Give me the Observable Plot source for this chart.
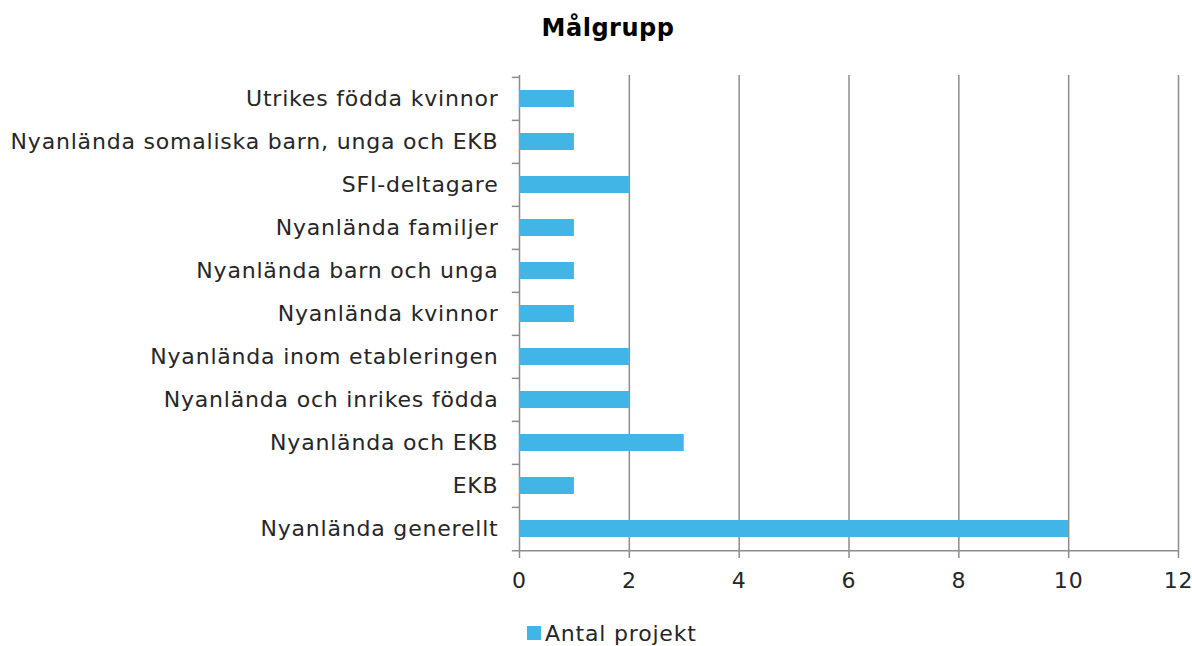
<!DOCTYPE html>
<html>
<head>
<meta charset="utf-8">
<script src="https://cdn.jsdelivr.net/npm/d3@7"></script>
<script src="https://cdn.jsdelivr.net/npm/@observablehq/plot@0.6"></script>
<style>
  html, body { margin: 0; padding: 0; background: #fff; }
  body { width: 1192px; height: 646px; overflow: hidden; font-family: "DejaVu Sans", sans-serif; }
  #title { height: 56px; line-height: 56px; text-align: center; font-weight: bold; font-size: 24px; color: #000; padding-left: 24px; box-sizing: border-box; letter-spacing: 0.5px; }
  #legend { height: 66px; display: flex; align-items: center; justify-content: flex-start; padding-left: 527px; font-size: 22px; color: #262626; letter-spacing: 0.8px; }
  #legend .sw { width: 14px; height: 14px; background: #41B6E6; margin-right: 4px; }
  svg { display: block; }
</style>
</head>
<body>
<div id="title">Målgrupp</div>
<div id="chart"></div>
<div id="legend"><span class="sw"></span><span>Antal projekt</span></div>
<script>
const seriesName = "Antal projekt";
const categories = [
  "Utrikes födda kvinnor",
  "Nyanlända somaliska barn, unga och EKB",
  "SFI-deltagare",
  "Nyanlända familjer",
  "Nyanlända barn och unga",
  "Nyanlända kvinnor",
  "Nyanlända inom etableringen",
  "Nyanlända och inrikes födda",
  "Nyanlända och EKB",
  "EKB",
  "Nyanlända generellt"
];
const values = [1, 1, 2, 1, 1, 1, 2, 2, 3, 1, 10];
const xTicks = [0, 2, 4, 6, 8, 10, 12];

const data = categories.map((c, i) => ({category: c, value: values[i]}));

const W = 1192, H = 544;
const mTop = 19, mBottom = 49, mLeft = 519, mRight = 14;
const bw = (H - mTop - mBottom) / categories.length;
const grey = "#8c8c8c";

const chart = Plot.plot({
  width: W,
  height: H,
  marginTop: mTop,
  marginBottom: mBottom,
  marginLeft: mLeft,
  marginRight: mRight,
  style: {fontFamily: "DejaVu Sans, sans-serif", fontSize: "22px", color: "#262626", background: "#fff", letterSpacing: "0.8px"},
  x: {domain: [0, 12], ticks: xTicks, label: null},
  y: {domain: categories, padding: 0, label: null},
  marks: [
    Plot.ruleX(xTicks, {stroke: grey, strokeWidth: 1.5}),
    Plot.ruleY(categories, {y: d => d, x1: -0.13, x2: 0, dy: -bw/2, stroke: grey, strokeWidth: 1.5}),
    Plot.ruleY([categories[categories.length - 1]], {y: d => d, x1: -0.13, x2: 12, dy: bw/2, stroke: grey, strokeWidth: 1.5}),
    Plot.barX(data, {x: "value", y: "category", fill: "#41B6E6", insetTop: 13, insetBottom: 13}),
    Plot.axisX({ticks: xTicks, tickSize: 7, tickPadding: 14, stroke: grey, strokeWidth: 1.5, strokeOpacity: 1, fontSize: 22}),
    Plot.axisY({tickSize: 0, tickPadding: 21, fontSize: 22})
  ]
});
document.getElementById("chart").appendChild(chart);
</script>
</body>
</html>
